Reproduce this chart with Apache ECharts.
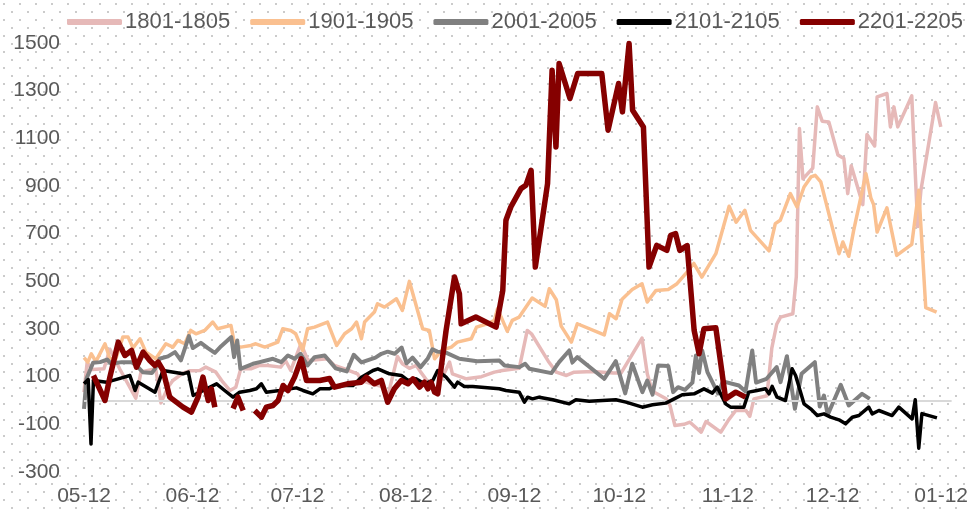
<!DOCTYPE html>
<html>
<head>
<meta charset="utf-8">
<script src="https://cdn.jsdelivr.net/npm/echarts@6/dist/echarts.min.js"></script>
<style>
  html, body {
    margin: 0;
    padding: 0;
  }
  body {
    width: 971px;
    height: 512px;
    background-color: #ffffff;
    background-image: url("data:image/svg+xml;utf8,<svg xmlns='http://www.w3.org/2000/svg' width='16' height='16'><rect x='3' y='3' width='2' height='2' fill='%23cbcbcb'/><rect x='11' y='11' width='2' height='2' fill='%23cbcbcb'/></svg>");
  }
  #chart {
    width: 971px;
    height: 512px;
  }
</style>
</head>
<body>
<div id="chart"></div>
<script>
// x = days since 05-12, y = spread value
const seriesNames = ["1801-1805", "1901-1905", "2001-2005", "2101-2105", "2201-2205"];
const dayTicks = [0, 31, 61, 92, 123, 153, 184, 214, 245];
const tickLabels = ["05-12", "06-12", "07-12", "08-12", "09-12", "10-12", "11-12", "12-12", "01-12"];
const yTicks = [-300, -100, 100, 300, 500, 700, 900, 1100, 1300, 1500];

const s1801 = [[0,35],[0.9,160],[2.3,130],[5.7,133],[7.4,215],[10.3,130],[14.8,10],[16.3,120],[20.5,133],[22,-10],[24,56],[25.4,84],[28.3,115],[30.3,125],[33.1,126],[34.8,140],[37.7,119],[39.7,77],[41.7,42],[43.4,56],[44.8,133],[47.7,133],[50.2,147],[52.5,147],[56.2,140],[57.6,168],[59.1,126],[62,238],[64,168],[69.6,175],[71.6,147],[74.5,133],[78.2,112],[79.3,84],[82.2,70],[85,60],[86.8,15],[89.6,185],[91,154],[93,135],[95,147],[96.2,120],[98.7,70],[100.7,45],[104.5,161],[105.3,112],[109.3,91],[113.6,100],[117.3,119],[119.6,126],[124.4,135],[126.7,294],[127.9,280],[132.7,165],[135,119],[137.9,105],[140.1,119],[145.5,122],[151.3,115],[153.5,115],[159.5,262],[161,112],[162.1,56],[163,35],[166.4,7],[167.5,-21],[168.9,-105],[171.5,-100],[173.2,-91],[176.4,-133],[177.8,-88],[182,-133],[184.3,-80],[186.3,-42],[189.2,-42],[190.3,-66],[191.5,7],[195.2,20],[196.6,220],[198,320],[199.1,350],[202.6,364],[203.6,520],[204.5,1141],[205.5,930],[208.3,975],[209.6,1232],[211,1172],[212.9,1169],[215.5,1030],[217.2,1015],[218.3,868],[219.3,985],[222.6,822],[223.8,1116],[226,1068],[226.7,1274],[229.5,1288],[230.5,1148],[231.5,1232],[232.6,1148],[236.6,1278],[238.3,730],[239.2,880],[243.4,1250],[244.9,1148]];

const s1901 = [[0,180],[1.1,161],[2.1,196],[3.4,163],[6,238],[7.4,175],[9.1,175],[11.1,266],[12.6,266],[14,220],[16,259],[17.7,203],[20.5,175],[23.4,238],[25.4,224],[26.8,252],[28.8,238],[30.5,294],[32,280],[34.5,294],[36.8,329],[38.2,301],[42,315],[43.1,231],[44.8,224],[47.7,231],[49.1,238],[51.7,224],[55.4,245],[56.8,301],[59.1,294],[60.5,280],[62.5,210],[63.9,301],[65.9,308],[69.6,329],[72.2,231],[74.5,280],[76.5,301],[77.9,329],[79.3,259],[80.2,329],[83,371],[83.9,406],[85.9,392],[89.3,427],[91,378],[93,500],[96.8,301],[98.7,294],[100.2,175],[102.2,210],[105,224],[106.7,245],[110.7,259],[112.2,308],[115.3,322],[117.3,336],[118.2,385],[121,290],[122.4,336],[124.4,350],[128.1,430],[131.8,395],[133,469],[135,423],[136.4,312],[139.3,245],[141,322],[148.7,275],[150.2,364],[152.1,343],[153.8,425],[156.7,466],[159.5,490],[161,413],[163.5,462],[167,466],[169.5,490],[172,532],[174.3,575],[176.6,518],[180.6,616],[184.4,815],[186.4,748],[188.9,798],[190.5,714],[195.8,628],[197.6,742],[199,756],[201.9,868],[203.8,812],[205.8,896],[207.8,938],[209,945],[210.6,917],[215.8,616],[216.9,665],[218.6,605],[220,714],[223.5,952],[224.9,850],[225.7,822],[226.7,707],[229.5,808],[232.3,609],[236.6,655],[238.6,882],[240.6,390],[243.7,371]];

const s2001 = [[0,-35],[0.7,91],[2.6,158],[4.6,161],[6.6,172],[7.8,154],[10.7,161],[13.6,161],[15.1,145],[16.8,119],[19.4,115],[20.3,133],[21.6,175],[24,185],[26,203],[27.7,168],[30,270],[31.1,220],[33.4,242],[35.4,220],[37.4,200],[39.2,228],[42.1,266],[42.9,182],[43.8,252],[44.7,133],[48.3,154],[50.2,161],[54,175],[56.4,161],[58.3,189],[60.2,175],[61.9,196],[63.9,147],[65.9,182],[68.8,189],[71.9,135],[75.1,122],[77.1,192],[79.3,160],[83.3,180],[85,196],[86.8,205],[88.8,196],[90.8,222],[92.2,156],[93.9,180],[96.2,140],[98.2,175],[99.6,215],[101,205],[103.6,200],[107.3,175],[112.4,165],[118.7,168],[120.2,147],[124.4,140],[126.1,154],[127.3,133],[133.6,115],[135.8,161],[138.7,210],[139.6,160],[141,182],[148.7,91],[152,165],[154.7,30],[156.7,154],[159.6,35],[161,84],[162.5,25],[164.1,147],[167,145],[168.4,35],[169.8,56],[171.8,45],[173.9,75],[174.9,189],[175.8,115],[176.7,210],[178.2,119],[181.2,30],[182.6,80],[187.2,63],[189.1,38],[191,210],[192.1,75],[195.1,91],[198,140],[199.1,77],[200.9,186],[203.2,-35],[205.1,112],[208.9,161],[210.3,-25],[211.5,21],[212.6,-60],[216.3,66],[218.6,-21],[222.4,28],[224.6,7]];

const s2101 = [[0,70],[1.2,88],[2,-182],[2.7,84],[6.5,77],[9.8,91],[13.1,105],[14.6,42],[15.5,77],[20.3,35],[22.6,126],[28.3,112],[29.8,119],[31.2,21],[37.9,70],[40.2,42],[42.6,14],[44.5,35],[47.4,42],[49.3,49],[50.7,70],[52.1,35],[55.9,42],[60.7,53],[62.6,42],[65.4,28],[67.4,49],[70.2,49],[71.1,56],[74,63],[76.9,63],[79.3,98],[82.6,126],[84,133],[87.3,112],[90.7,105],[92.6,84],[94.9,91],[97.3,70],[99.7,84],[101.1,126],[103.5,98],[105.9,56],[106.8,77],[108.7,59],[111.1,59],[118.7,49],[120.6,42],[124.4,35],[125.9,-7],[126.8,14],[128.2,7],[130.1,14],[134,3],[138.7,-14],[140.6,3],[144.4,-3],[152,3],[154.9,-7],[159.6,-28],[162.5,-18],[166.3,-11],[168.7,7],[171,24],[174.4,28],[177.2,49],[179.6,31],[181,56],[183.4,-14],[184.8,-28],[188.6,-28],[190,35],[192.4,42],[194.8,49],[195.8,28],[196.7,59],[198.1,14],[200.5,0],[202.4,133],[203.4,105],[205.8,-14],[207.7,-35],[209.6,-63],[211.5,-56],[213.4,-70],[215.8,-81],[217.7,-98],[219.6,-70],[221.5,-63],[224.3,-28],[225.3,-56],[227.2,-42],[231,-63],[232.9,-28],[236.7,-77],[237.6,3],[238.6,-200],[239.5,-55],[243.8,-73]];

const s2201 = [[2.7,105],[6,0],[7.4,98],[9.8,245],[11.7,189],[13.6,210],[15,140],[16.9,203],[18.8,168],[20.3,147],[21.2,161],[22.6,126],[24.5,14],[28.3,-28],[30.7,-49],[32.6,14],[34,98],[35.5,0],[36.4,49],[37.4,-28],[40,"-"],[42.6,-34],[44,14],[45.5,-42],[47,"-"],[48.8,-42],[50.7,-70],[52.1,-28],[54,-21],[55.5,0],[56.9,63],[58.3,42],[60.2,98],[62.1,175],[63.6,84],[67.4,84],[70.2,92],[71.6,56],[75.3,70],[79.3,77],[80.7,98],[83,70],[85,84],[86.8,-7],[88.7,49],[90.7,84],[92.6,70],[94,91],[95.9,56],[97.3,77],[98.3,49],[99.2,77],[100.2,35],[101.1,28],[103.5,294],[105.9,518],[107.3,448],[107.8,322],[112,350],[117.8,308],[119.7,462],[120.6,756],[122,812],[124.9,889],[126.3,903],[127.8,966],[129,560],[132.5,910],[133.8,1386],[134.9,1064],[135.8,1414],[138.9,1267],[141.1,1372],[148,1372],[149.8,1134],[152.8,1330],[153.9,1211],[155.8,1498],[156.8,1218],[159.9,1148],[161.5,560],[163.7,651],[166.6,630],[167.7,693],[169.1,700],[170.3,630],[172.4,650],[174.4,294],[175.8,196],[177.2,301],[180.6,305],[183.4,7],[186.3,35],[189.1,14]];

const colors = ["#e6b9b8", "#fac090", "#808080", "#000000", "#850000"];
const widths = [3.5, 3.5, 4, 3.5, 5.5];
const allData = [s1801, s1901, s2001, s2101, s2201];

const chart = echarts.init(document.getElementById("chart"));

const series = seriesNames.map(function (name, i) {
  const s = {
    name: name,
    type: "line",
    data: allData[i],
    symbol: "none",
    connectNulls: false,
    lineStyle: { color: colors[i], width: widths[i], join: "round" },
    itemStyle: { color: colors[i] },
    z: 2 + i
  };
  if (i === 0) {
    // zero line
    s.markLine = {
      silent: true,
      symbol: "none",
      label: { show: false },
      lineStyle: { color: "#d9d9d9", width: 2, type: "solid" },
      data: [{ yAxis: 0 }]
    };
  }
  return s;
});

chart.setOption({
  backgroundColor: "transparent",
  animation: false,
  color: colors,
  textStyle: { fontFamily: "Liberation Sans, Arial, sans-serif" },
  legend: {
    left: 62,
    top: 6,
    itemWidth: 55,
    itemHeight: 6,
    itemGap: 20,
    icon: "roundRect",
    textStyle: { fontSize: 22, color: "#595959", padding: [0, 0, 0, -2] },
    data: seriesNames
  },
  grid: {
    left: 84,
    right: 18,
    top: 43,
    bottom: 40
  },
  xAxis: {
    type: "value",
    min: 0,
    max: 248,
    axisLine: { show: false },
    axisTick: { show: false },
    splitLine: { show: false },
    axisLabel: {
      customValues: dayTicks,
      fontSize: 21,
      color: "#595959",
      margin: 14,
      formatter: function (v) {
        const k = dayTicks.indexOf(v);
        return k >= 0 ? tickLabels[k] : "";
      }
    }
  },
  yAxis: {
    type: "value",
    min: -300,
    max: 1500,
    axisLine: { show: false },
    axisTick: { show: false },
    splitLine: { show: false },
    axisLabel: {
      customValues: yTicks,
      fontSize: 21,
      color: "#595959",
      margin: 24,
      formatter: function (v) {
        return String(v);
      }
    }
  },
  series: series
});
</script>
</body>
</html>
